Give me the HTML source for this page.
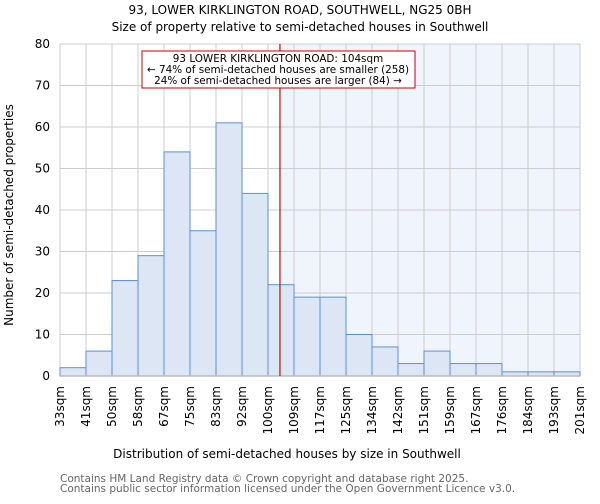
<!DOCTYPE html>
<html><head><meta charset="utf-8"><style>
body{margin:0;background:#fff;font-family:"DejaVu Sans","Liberation Sans",sans-serif}
</style></head><body>
<svg id="c" width="600" height="500" xmlns="http://www.w3.org/2000/svg" font-family="DejaVu Sans, Liberation Sans, sans-serif">
<text x="300" y="14" text-anchor="middle" font-size="12">93, LOWER KIRKLINGTON ROAD, SOUTHWELL, NG25 0BH</text>
<text x="300" y="31" text-anchor="middle" font-size="12">Size of property relative to semi-detached houses in Southwell</text>
<g id="g"></g>
<text x="287" y="458" text-anchor="middle" font-size="12">Distribution of semi-detached houses by size in Southwell</text>
<text transform="translate(13,215) rotate(-90)" text-anchor="middle" font-size="12">Number of semi-detached properties</text>
<text x="60" y="482" font-size="10.5" fill="#666">Contains HM Land Registry data © Crown copyright and database right 2025.</text>
<text x="60" y="492" font-size="10.5" fill="#666">Contains public sector information licensed under the Open Government Licence v3.0.</text>
</svg>
<script>
const edgeLabels=["33sqm","41sqm","50sqm","58sqm","67sqm","75sqm","83sqm","92sqm","100sqm","109sqm","117sqm","125sqm","134sqm","142sqm","151sqm","159sqm","167sqm","176sqm","184sqm","193sqm","201sqm"];
const counts=[2,6,23,29,54,35,61,44,22,19,19,10,7,3,6,3,3,1,1,1];
const yTicks=[0,10,20,30,40,50,60,70,80];
const markerIndex=8.46;
const NS="http://www.w3.org/2000/svg";
const g=document.getElementById('g');
const L=60,R=580,T=44,B=376,bw=(R-L)/counts.length;
const xs=i=>L+i*bw, ys=v=>B-(v/80)*(B-T);
function mk(t,a,p){const e=document.createElementNS(NS,t);for(const k in a)e.setAttribute(k,a[k]);(p||g).appendChild(e);return e;}
const shade=mk('rect',{x:xs(markerIndex),y:T,width:R-xs(markerIndex),height:B-T,fill:'#f0f4fd'});


edgeLabels.forEach((l,i)=>{const ln=mk('line',{x1:xs(i),x2:xs(i),y1:T,y2:B,stroke:'#ccc','stroke-width':1});


const t=mk('text',{transform:`translate(${xs(i)+4},${B+10}) rotate(-90)`,'text-anchor':'end','font-size':'12'});t.textContent=l;

});
yTicks.forEach(v=>{const ln=mk('line',{x1:L,x2:R,y1:ys(v),y2:ys(v),stroke:'#ccc','stroke-width':1});


const t=mk('text',{x:L-10,y:ys(v)+4,'text-anchor':'end','font-size':'12'});t.textContent=v;

});
counts.forEach((c,i)=>{const r=mk('rect',{x:xs(i),y:ys(c),width:bw,height:B-ys(c),fill:'#dce6f5',stroke:'#5b8fd6','stroke-width':1});

});
const ax=mk('line',{x1:L,x2:R,y1:B,y2:B,stroke:'#bbb','stroke-width':1.5});


const rl=mk('line',{x1:xs(markerIndex),x2:xs(markerIndex),y1:T,y2:B,stroke:'#d00','stroke-width':1.2});


const box=mk('rect',{x:142,y:51,width:273,height:37,fill:'#fff',stroke:'#c00','stroke-width':1});


["93 LOWER KIRKLINGTON ROAD: 104sqm","← 74% of semi-detached houses are smaller (258)","24% of semi-detached houses are larger (84) →"].forEach((s,i)=>{const t=mk('text',{x:278,y:62+i*11,'text-anchor':'middle','font-size':'10.4'});t.textContent=s;

});
</script>
</body></html>
